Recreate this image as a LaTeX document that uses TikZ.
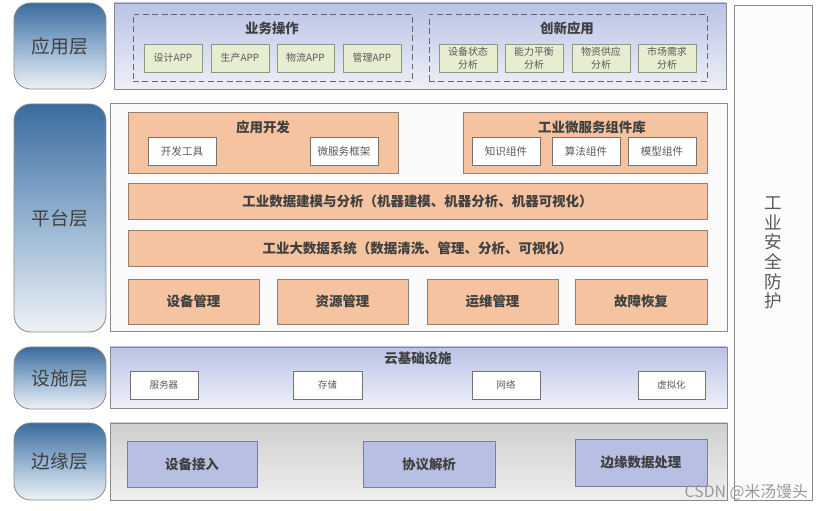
\documentclass[tikz,border=0pt]{standalone}
\usepackage{fontspec}
\setmainfont{Noto Sans CJK SC}
\definecolor{labtop}{HTML}{3A6B9E}
\definecolor{labmid}{HTML}{93B2D0}
\definecolor{labbot}{HTML}{EEF2F7}
\definecolor{ptop}{HTML}{B9C3E5}
\definecolor{pbot}{HTML}{EEF0F8}
\definecolor{gtop}{HTML}{CFCFCF}
\definecolor{gbot}{HTML}{EFEFEF}
\definecolor{peach}{HTML}{F5C3A0}
\definecolor{peachline}{HTML}{8F8178}
\definecolor{appgreen}{HTML}{E6EDD0}
\definecolor{appline}{HTML}{8C9A7A}
\definecolor{lav}{HTML}{B7BFE3}
\definecolor{lavline}{HTML}{7A7F99}
\definecolor{frame}{HTML}{8A8A8A}
\newcommand\bx[7]{\node[#6, inner sep=0pt,
  minimum width={(#4-#2)*0.03cm}, minimum height={(#5-#3)*0.03cm}]
  (#1) at ({(#2+#4)/2},{(#3+#5)/2}) {#7};}
\begin{document}
\begin{tikzpicture}[x=0.03cm,y=-0.03cm,
  lay/.style={draw=frame, line width=0.7pt, rounded corners=0.5cm,
    top color=labtop, bottom color=labbot, middle color=labmid,
    text=black!75, font=\fontsize{16}{16}\selectfont},
  panel/.style={draw=frame, line width=0.8pt},
  bluepanel/.style={panel, top color=ptop, bottom color=pbot},
  greypanel/.style={panel, top color=gtop, bottom color=gbot},
  whitepanel/.style={panel, fill=black!2},
  sidepanel/.style={panel, fill=black!1},
  dashbox/.style={draw=black!60, line width=0.8pt, dash pattern=on 5pt off 3pt},
  appbox/.style={draw=appline, fill=appgreen, line width=0.8pt, text=black!65,
    font=\fontsize{8.5}{11}\selectfont, align=center},
  wbox/.style={draw=black!55, fill=white, line width=0.8pt, text=black!65,
    font=\fontsize{9}{9}\selectfont},
  wsbox/.style={wbox, font=\fontsize{8}{8}\selectfont},
  peachbox/.style={draw=peachline, fill=peach, line width=0.8pt, text=black!75,
    font=\bfseries\fontsize{11.5}{11.5}\selectfont},
  lavbox/.style={draw=lavline, fill=lav, line width=0.8pt, text=black!75,
    font=\bfseries\fontsize{11.5}{11.5}\selectfont},
  ttl/.style={text=black!75, font=\bfseries\fontsize{11.5}{11.5}\selectfont}]
\useasboundingbox (0,0) rectangle (829,511);

% layer labels
\bx{L1}{14}{3}{106}{89}{lay}{应用层}
\bx{L2}{14}{104}{106}{332}{lay}{平台层}
\bx{L3}{14}{347}{106}{409}{lay}{设施层}
\bx{L4}{14}{423}{106}{500}{lay}{边缘层}

% right security column
\bx{sec}{734}{5}{812}{500}{sidepanel}{}
\node[text=black!65, align=center, font=\fontsize{15}{16.8}\selectfont] (sect) at (773,253) {工\\业\\安\\全\\防\\护};

% application layer
\bx{P1}{114}{3}{726}{89}{bluepanel}{}
\bx{D1}{133}{14}{412}{81}{dashbox}{}
\node[ttl] (t1) at (272,28) {业务操作};
\bx{a1}{144}{44}{202}{72}{appbox}{设计APP}
\bx{a2}{211}{44}{269}{72}{appbox}{生产APP}
\bx{a3}{277}{44}{334}{72}{appbox}{物流APP}
\bx{a4}{343}{44}{401}{72}{appbox}{管理APP}
\bx{D2}{429}{14}{707}{81}{dashbox}{}
\node[ttl] (t2) at (567,28) {创新应用};
\bx{b1}{439}{44}{497}{72}{appbox}{设备状态\\分析}
\bx{b2}{505}{44}{563}{72}{appbox}{能力平衡\\分析}
\bx{b3}{572}{44}{630}{72}{appbox}{物资供应\\分析}
\bx{b4}{638}{44}{696}{72}{appbox}{市场需求\\分析}

% platform layer
\bx{P2}{110}{103}{727}{331}{whitepanel}{}
\bx{dev}{128}{112}{398}{173}{peachbox}{}
\node[ttl] (t3) at (263,127) {应用开发};
\bx{c1}{148}{137}{216}{165}{wbox}{开发工具}
\bx{c2}{310}{137}{378}{165}{wbox}{微服务框架}
\bx{lib}{463}{112}{707}{173}{peachbox}{}
\node[ttl] (t4) at (592,127) {工业微服务组件库};
\bx{d1}{472}{137}{540}{165}{wbox}{知识组件}
\bx{d2}{552}{137}{620}{165}{wbox}{算法组件}
\bx{d3}{628}{137}{696}{165}{wbox}{模型组件}
\bx{bar1}{128}{183}{707}{219}{peachbox}{工业数据建模与分析（机器建模、机器分析、机器可视化）}
\bx{bar2}{128}{230}{707}{266}{peachbox}{工业大数据系统（数据清洗、管理、分析、可视化）}
\bx{m1}{128}{279}{259}{324}{peachbox}{设备管理}
\bx{m2}{277}{279}{408}{324}{peachbox}{资源管理}
\bx{m3}{427}{279}{558}{324}{peachbox}{运维管理}
\bx{m4}{575}{279}{707}{324}{peachbox}{故障恢复}

% facility layer
\bx{P3}{110}{347}{727}{408}{bluepanel}{}
\node[ttl] (t5) at (418,358) {云基础设施};
\bx{e1}{130}{371}{198}{399}{wsbox}{服务器}
\bx{e2}{293}{371}{362}{399}{wsbox}{存储}
\bx{e3}{472}{371}{540}{399}{wsbox}{网络}
\bx{e4}{638}{371}{705}{399}{wsbox}{虚拟化}

% edge layer
\bx{P4}{110}{423}{727}{500}{greypanel}{}
\bx{f1}{127}{441}{257}{487}{lavbox}{设备接入}
\bx{f2}{363}{441}{495}{487}{lavbox}{协议解析}
\bx{f3}{575}{439}{707}{486}{lavbox}{边缘数据处理}

% watermark
\node[text=black!40, font=\fontsize{13.5}{13.5}\selectfont, anchor=east] (wm) at (812,492) {CSDN @米汤馒头};
\end{tikzpicture}
\end{document}
